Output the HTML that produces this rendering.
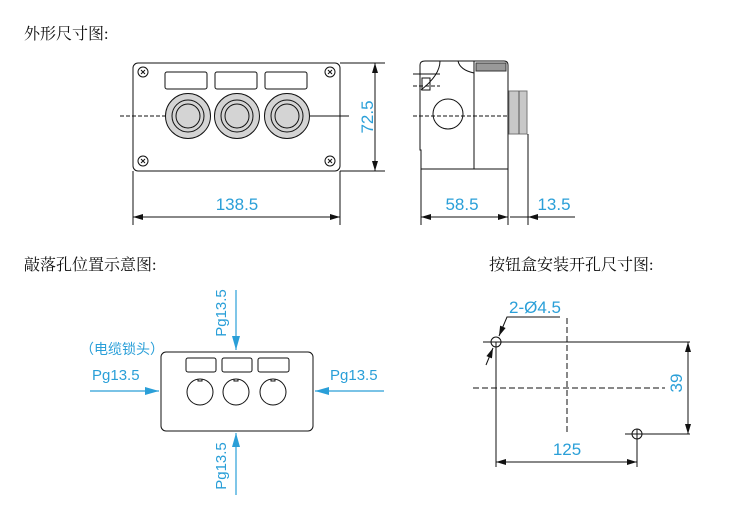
<!DOCTYPE html>
<html><head><meta charset="utf-8"><style>
html,body{margin:0;padding:0;background:#fff;width:750px;height:527px;overflow:hidden}
svg{display:block}
.cn{font-family:"Liberation Serif","Noto Serif CJK SC",serif;font-size:16px;fill:#111}
.b{font-family:"Liberation Sans",sans-serif;font-size:17px;fill:#2a9fd8}
.p{font-size:15px}
</style></head><body>
<svg width="750" height="527" viewBox="0 0 750 527" xmlns="http://www.w3.org/2000/svg">
<defs>
<marker id="a" viewBox="0 0 10 6" refX="10" refY="3" markerWidth="12" markerHeight="6" orient="auto-start-reverse" markerUnits="userSpaceOnUse"><path d="M0,0L10,3L0,6z" fill="#111"/></marker>
<marker id="ab" viewBox="0 0 14 8" refX="14" refY="4" markerWidth="14" markerHeight="8" orient="auto" markerUnits="userSpaceOnUse"><path d="M0,0L14,4L0,8z" fill="#2a9fd8"/></marker>
</defs>
<text x="24" y="39" class="cn">外形尺寸图:</text>
<text x="24" y="270" class="cn">敲落孔位置示意图:</text>
<text x="489" y="270" class="cn">按钮盒安装开孔尺寸图:</text>

<g stroke="#111" fill="none" stroke-width="1">
<rect x="133" y="63" width="207" height="108" rx="5"/>
<g fill="#fff"><circle cx="143" cy="72" r="5"/><circle cx="330" cy="72" r="5"/><circle cx="143" cy="161" r="5"/><circle cx="330" cy="161" r="5"/></g>
<path d="M141,70l4,4M145,70l-4,4M328,70l4,4M332,70l-4,4M141,159l4,4M145,159l-4,4M328,159l4,4M332,159l-4,4"/>
<rect x="165" y="72" width="42" height="17" rx="2"/><rect x="215" y="72" width="42" height="17" rx="2"/><rect x="265" y="72" width="42" height="17" rx="2"/>
<line x1="120" y1="116" x2="165" y2="116" stroke-dasharray="4,2"/>
<line x1="310" y1="116" x2="349" y2="116"/>
<g fill="#d4d4d4"><circle cx="188" cy="116" r="22.5"/><circle cx="237" cy="116" r="22.5"/><circle cx="287" cy="116" r="22.5"/></g>
<circle cx="188" cy="116" r="16"/><circle cx="188" cy="116" r="12"/>
<circle cx="237" cy="116" r="16"/><circle cx="237" cy="116" r="12"/>
<circle cx="287" cy="116" r="16"/><circle cx="287" cy="116" r="12"/>
<line x1="340" y1="63" x2="385" y2="63"/><line x1="340" y1="171" x2="385" y2="171"/>
<line x1="375" y1="63" x2="375" y2="171" marker-start="url(#a)" marker-end="url(#a)"/>
<line x1="133" y1="171" x2="133" y2="225"/><line x1="340" y1="171" x2="340" y2="225"/>
<line x1="133" y1="217" x2="340" y2="217" marker-start="url(#a)" marker-end="url(#a)"/>
<path d="M425,61H504Q508,61 508,65V169H421V150H420V65Q420,61 425,61Z"/>
<line x1="474" y1="61" x2="474" y2="169"/>
<path d="M421,90Q440,75 440,61" /><path d="M474,73Q460,70 458,61"/>
<rect x="476" y="63" width="30" height="8" fill="#999" stroke="#333"/>
<rect x="422" y="78" width="8" height="12"/>
<line x1="413" y1="74" x2="440" y2="74"/><line x1="413" y1="86" x2="440" y2="86" stroke-dasharray="4,2"/>
<circle cx="448" cy="114" r="15"/>
<line x1="413" y1="116" x2="508" y2="116" stroke-dasharray="4,2"/>
<rect x="509" y="91" width="18" height="43" fill="#c8c8c8" stroke="#777"/>
<line x1="519" y1="91" x2="519" y2="134" stroke="#555"/>
<line x1="421" y1="169" x2="421" y2="225"/><line x1="508" y1="169" x2="508" y2="225"/><line x1="528" y1="134" x2="528" y2="225"/>
<line x1="421" y1="217" x2="508" y2="217" marker-start="url(#a)" marker-end="url(#a)"/>
<line x1="575" y1="217" x2="510" y2="217"/>
<line x1="545" y1="217" x2="528" y2="217" marker-end="url(#a)"/>
<rect x="161" y="352" width="152" height="79" rx="5"/>
<rect x="186" y="358" width="30" height="14" rx="2"/><rect x="222" y="358" width="30" height="14" rx="2"/><rect x="258" y="358" width="31" height="14" rx="2"/>
<circle cx="200" cy="392" r="13"/><circle cx="236" cy="392" r="13"/><circle cx="273" cy="392" r="13"/>
<path d="M198,379v2h4v-2M234,379v2h4v-2M271,379v2h4v-2"/>
<circle cx="496" cy="342" r="5"/><circle cx="637" cy="434" r="5"/>
<line x1="483" y1="342" x2="690" y2="342"/><line x1="625" y1="434" x2="690" y2="434"/>
<line x1="688" y1="342" x2="688" y2="434" marker-start="url(#a)" marker-end="url(#a)"/>
<line x1="473" y1="388" x2="665" y2="388" stroke-dasharray="6,3"/>
<line x1="567" y1="318" x2="567" y2="435" stroke-dasharray="6,3"/>
<line x1="496" y1="342" x2="496" y2="467"/><line x1="637" y1="429" x2="637" y2="467"/>
<line x1="496" y1="462" x2="637" y2="462" marker-start="url(#a)" marker-end="url(#a)"/>
<polyline points="560,317 507,317 499,336" marker-end="url(#a)"/>
<line x1="486" y1="365" x2="493" y2="348" marker-end="url(#a)"/>
</g>
<g stroke="#2a9fd8" stroke-width="1.2">
<line x1="236" y1="290" x2="236" y2="350" marker-end="url(#ab)"/>
<line x1="236" y1="495" x2="236" y2="433" marker-end="url(#ab)"/>
<line x1="90" y1="391" x2="159" y2="391" marker-end="url(#ab)"/>
<line x1="384" y1="391" x2="315" y2="391" marker-end="url(#ab)"/>
</g>
<text x="237" y="210" class="b" text-anchor="middle">138.5</text>
<text transform="translate(373,117) rotate(-90)" class="b" text-anchor="middle">72.5</text>
<text x="462" y="210" class="b" text-anchor="middle">58.5</text>
<text x="554" y="210" class="b" text-anchor="middle">13.5</text>
<text x="80" y="354" class="b" style="font-family:'Liberation Sans','Noto Sans CJK SC',sans-serif;font-size:14px">（电缆锁头）</text>
<text x="92" y="380" class="b p">Pg13.5</text>
<text x="330" y="380" class="b p">Pg13.5</text>
<text transform="translate(226,313) rotate(-90)" class="b p" text-anchor="middle">Pg13.5</text>
<text transform="translate(226,466) rotate(-90)" class="b p" text-anchor="middle">Pg13.5</text>
<text x="509" y="313" class="b">2-Ø4.5</text>
<text x="567" y="455" class="b" text-anchor="middle">125</text>
<text transform="translate(682,383) rotate(-90)" class="b" text-anchor="middle">39</text>
</svg>
</body></html>
